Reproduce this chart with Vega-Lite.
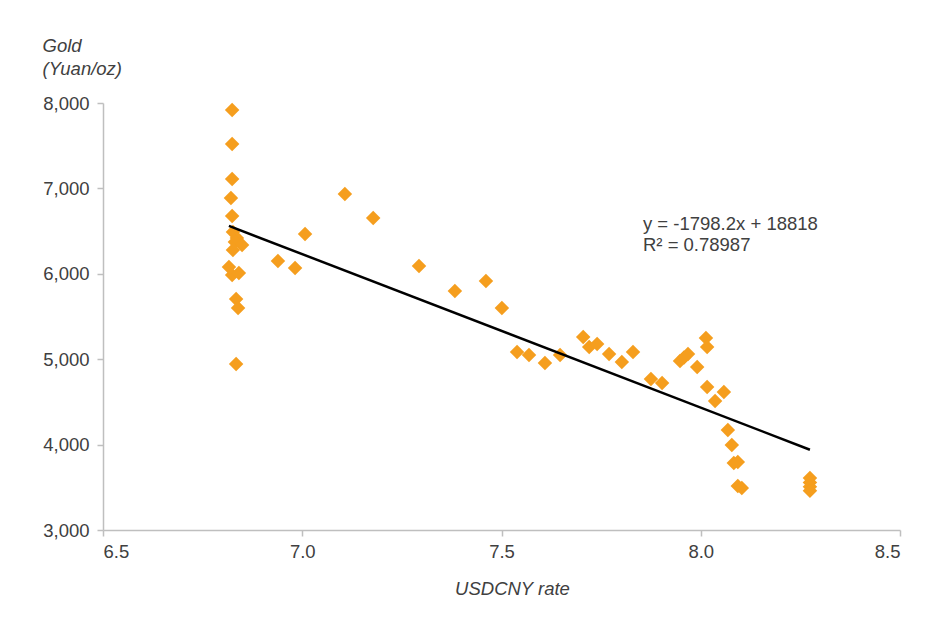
{
  "$schema": "https://vega.github.io/schema/vega-lite/v6.json",
  "width": 797,
  "height": 427,
  "autosize": "none",
  "padding": {"left": 103, "top": 103, "right": 35, "bottom": 99},
  "background": "white",
  "config": {
    "view": {"stroke": null},
    "font": "Liberation Sans",
    "axis": {
      "grid": false,
      "domainColor": "#bfbfbf",
      "tickColor": "#bfbfbf",
      "labelColor": "#404040",
      "titleColor": "#404040",
      "labelFont": "Liberation Sans",
      "titleFont": "Liberation Sans",
      "labelFontSize": 18.5,
      "titleFontSize": 18.5,
      "titleFontWeight": "normal",
      "titleFontStyle": "italic",
      "tickSize": 6,
      "domainWidth": 1.5,
      "tickWidth": 1.5
    }
  },
  "datasets": {
    "points": [
      {"rate": 6.824, "gold": 7918},
      {"rate": 6.824, "gold": 7520},
      {"rate": 6.824, "gold": 7110},
      {"rate": 6.821, "gold": 6888},
      {"rate": 6.824, "gold": 6677},
      {"rate": 6.826, "gold": 6489},
      {"rate": 6.836, "gold": 6420},
      {"rate": 6.831, "gold": 6372},
      {"rate": 6.849, "gold": 6337},
      {"rate": 6.826, "gold": 6279},
      {"rate": 6.816, "gold": 6080},
      {"rate": 6.824, "gold": 5986},
      {"rate": 6.841, "gold": 6009},
      {"rate": 6.834, "gold": 5705},
      {"rate": 6.839, "gold": 5600},
      {"rate": 6.834, "gold": 4944},
      {"rate": 6.939, "gold": 6150},
      {"rate": 6.982, "gold": 6068},
      {"rate": 7.007, "gold": 6466},
      {"rate": 7.107, "gold": 6934},
      {"rate": 7.178, "gold": 6653},
      {"rate": 7.293, "gold": 6091},
      {"rate": 7.383, "gold": 5799},
      {"rate": 7.461, "gold": 5916},
      {"rate": 7.501, "gold": 5600},
      {"rate": 7.539, "gold": 5084},
      {"rate": 7.569, "gold": 5049},
      {"rate": 7.609, "gold": 4956},
      {"rate": 7.647, "gold": 5049},
      {"rate": 7.705, "gold": 5260},
      {"rate": 7.720, "gold": 5143},
      {"rate": 7.740, "gold": 5178},
      {"rate": 7.770, "gold": 5061},
      {"rate": 7.802, "gold": 4967},
      {"rate": 7.830, "gold": 5084},
      {"rate": 7.875, "gold": 4768},
      {"rate": 7.903, "gold": 4721},
      {"rate": 7.948, "gold": 4979},
      {"rate": 7.958, "gold": 5020},
      {"rate": 7.968, "gold": 5061},
      {"rate": 7.991, "gold": 4909},
      {"rate": 8.013, "gold": 5248},
      {"rate": 8.016, "gold": 5143},
      {"rate": 8.016, "gold": 4674},
      {"rate": 8.058, "gold": 4616},
      {"rate": 8.036, "gold": 4511},
      {"rate": 8.068, "gold": 4171},
      {"rate": 8.078, "gold": 3995},
      {"rate": 8.083, "gold": 3785},
      {"rate": 8.093, "gold": 3796},
      {"rate": 8.093, "gold": 3515},
      {"rate": 8.103, "gold": 3492},
      {"rate": 8.274, "gold": 3609},
      {"rate": 8.274, "gold": 3555},
      {"rate": 8.274, "gold": 3505},
      {"rate": 8.274, "gold": 3460}
    ],
    "trend": [
      {"rate": 6.816, "gold": 6561},
      {"rate": 8.274, "gold": 3940}
    ],
    "label": [
      {"rate": 7.855, "gold": 6583, "text": "y = -1798.2x + 18818"},
      {"rate": 7.855, "gold": 6337, "text": "R² = 0.78987"}
    ]
  },
  "encoding": {
    "x": {
      "field": "rate",
      "type": "quantitative",
      "scale": {"domain": [6.5, 8.5], "nice": false, "zero": false},
      "axis": {
        "values": [6.5, 7.0, 7.5, 8.0, 8.5],
        "format": ".1f",
        "title": "USDCNY rate",
        "labelPadding": 6,
        "titlePadding": 19,
        "titleX": 409
      }
    },
    "y": {
      "field": "gold",
      "type": "quantitative",
      "scale": {"domain": [3000, 8000], "nice": false, "zero": false},
      "axis": {
        "values": [3000, 4000, 5000, 6000, 7000, 8000],
        "format": ",d",
        "labelPadding": 8,
        "title": ["Gold", "(Yuan/oz)"],
        "titleAngle": 0,
        "titleAlign": "left",
        "titleBaseline": "top",
        "titleX": -61,
        "titleY": -67,
        "titleLineHeight": 23
      }
    }
  },
  "layer": [
    {
      "data": {"name": "points"},
      "mark": {"type": "point", "shape": "diamond", "filled": true, "size": 210, "color": "#F59E1E", "opacity": 1}
    },
    {
      "data": {"name": "trend"},
      "mark": {"type": "line", "color": "#000000", "strokeWidth": 2.5}
    },
    {
      "data": {"name": "label"},
      "mark": {"type": "text", "align": "left", "baseline": "middle", "fontSize": 18.5, "color": "#404040", "font": "Liberation Sans"},
      "encoding": {"text": {"field": "text"}}
    }
  ]
}
